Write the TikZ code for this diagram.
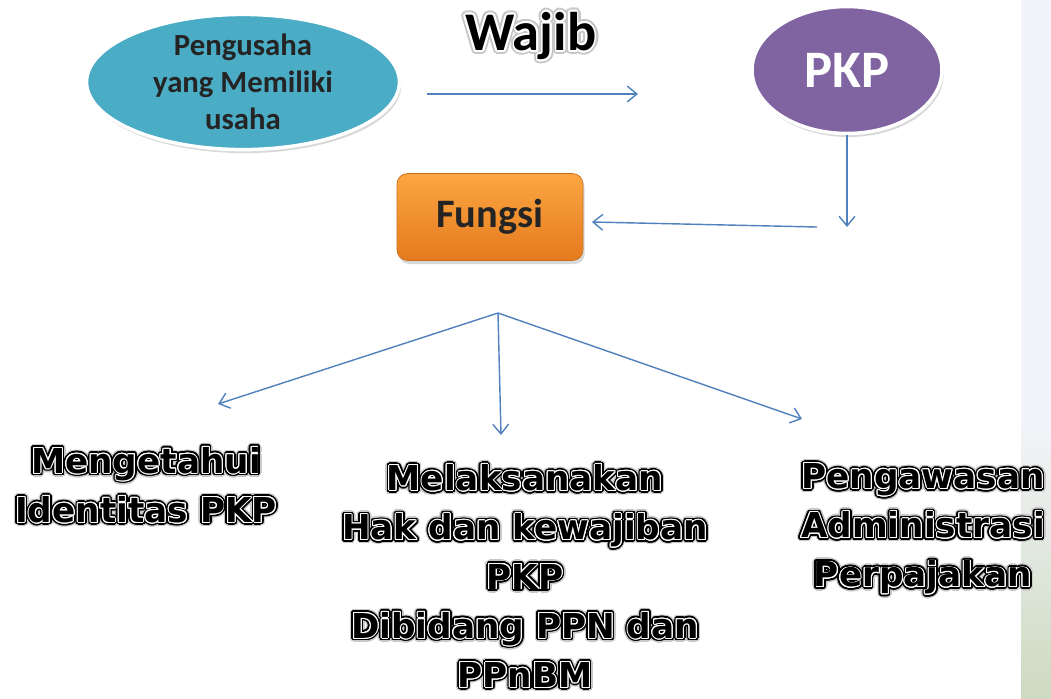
\documentclass[tikz,border=0pt]{standalone}
\usepackage{fontspec}
\setmainfont{Carlito}
\newfontfamily\heavyfont{DejaVu Sans}
\usepackage{contour}
\usetikzlibrary{
	arrows.meta,
	shapes.geometric,
	shadows,
	positioning
  }
\definecolor{flowblue}{RGB}{79,129,189}
\definecolor{tealfill}{RGB}{75,172,198}
\definecolor{purplefill}{RGB}{128,100,162}
\definecolor{orangetop}{RGB}{252,166,66}
\definecolor{orangebot}{RGB}{228,122,30}
\definecolor{darktext}{RGB}{36,36,36}
\definecolor{striptop}{RGB}{243,244,250}
\definecolor{stripbot}{RGB}{205,218,192}
% black letters, thin white ring, black rim, grey glow
\newcommand{\heavyline}[1]{\rlap{\contourlength{2.3pt}\contour[24]{black!22}{#1}}\rlap{\contourlength{1.5pt}\contour[24]{black}{#1}}{\contourlength{0.55pt}\contour[16]{white}{#1}}}
\newcommand{\glowword}[1]{\rlap{\contourlength{2.2pt}\contour[24]{black!22}{#1}}{\contourlength{1pt}\contour[20]{white}{#1}}}
\tikzset{
	flow/.style={draw=flowblue, line width=0.8pt, -{Straight Barb[length=5.5pt,width=9pt]}},
	oval/.style={ellipse, draw=white, line width=2pt, inner sep=0pt,
		drop shadow={opacity=0.3, shadow xshift=1pt, shadow yshift=-2pt}},
	heavy/.style={font=\heavyfont\bfseries\fontsize{19.5}{28}\selectfont, align=center, inner sep=0pt}
}
\begin{document}
\begin{tikzpicture}[x=0.02cm, y=-0.02cm]
	\useasboundingbox[fill=white] (0,0) rectangle (1051,698);
	\fill[striptop] (1021,0) rectangle (1051,420);
	\shade[top color=striptop, bottom color=stripbot] (1021,420) rectangle (1051,698);
	\node[oval, fill=tealfill, minimum width=6.26cm, minimum height=2.66cm, text=darktext,
		align=center, font=\bfseries\fontsize{17.5}{21}\selectfont] (usaha) at (243,82)
		{Pengusaha\\yang Memiliki\\usaha};
	\node[oval, fill=purplefill, minimum width=3.8cm, minimum height=2.54cm, text=white,
		font=\bfseries\fontsize{30}{36}\selectfont] (pkp) at (847,70) {PKP};
	\node[rounded corners=6pt, top color=orangetop, bottom color=orangebot, draw=orangebot!90!black,
		line width=0.4pt, minimum width=3.72cm, minimum height=1.74cm, text=darktext,
		font=\bfseries\fontsize{23}{27}\selectfont,
		drop shadow={opacity=0.3, shadow xshift=1pt, shadow yshift=-2pt}] (fungsi) at (490,217) {Fungsi};
	\node[font=\bfseries\fontsize{31}{36}\selectfont] (wajib) at (531,38) {\glowword{Wajib}};
	\node[heavy] (ident) at (146,487) {\heavyline{Mengetahui}\\\heavyline{Identitas PKP}};
	\node[heavy] (hak) at (525,578) {\heavyline{Melaksanakan}\\\heavyline{Hak dan kewajiban}\\
		\heavyline{PKP}\\\heavyline{Dibidang PPN dan}\\\heavyline{PPnBM}};
	\node[heavy] (awas) at (923,531) {\heavyline{Pengawasan}\\\heavyline{Administrasi}\\\heavyline{Perpajakan}};
	\coordinate (wajibfrom) at (427,94);
	\coordinate (wajibto) at (638,94);
	\coordinate (pkpdown) at (847,227);
	\coordinate (turn) at (817,227);
	\coordinate (fungsiin) at (592,222);
	\coordinate (branch) at (498,313);
	\coordinate (toident) at (218,404);
	\coordinate (tohak) at (501,435);
	\coordinate (toawas) at (802,419);
	\draw[flow] (wajibfrom) -- (wajibto);
	\draw[flow] (pkp) -- (pkpdown);
	\draw[flow] (turn) -- (fungsiin);
	\draw[flow] (branch) -- (toident);
	\draw[flow] (branch) -- (tohak);
	\draw[flow] (branch) -- (toawas);
\end{tikzpicture}
\end{document}
